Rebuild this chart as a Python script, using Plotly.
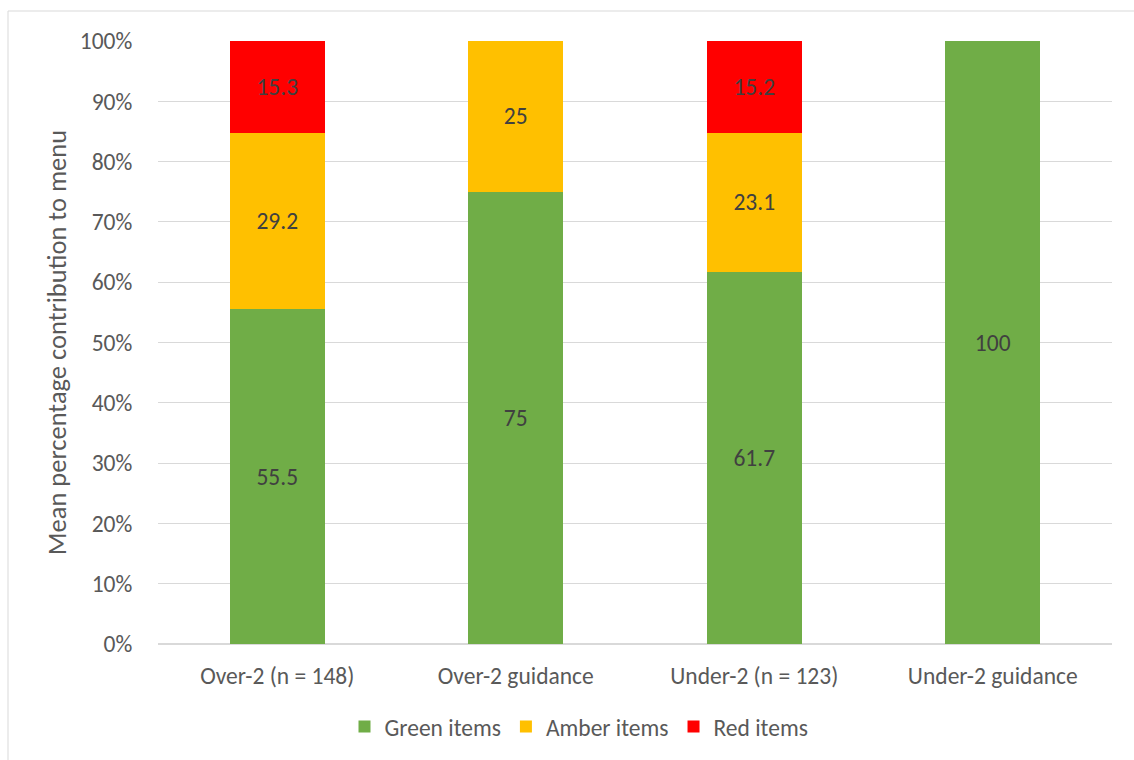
import plotly.graph_objects as go

categories = ["Over-2 (n = 148)", "Over-2 guidance", "Under-2 (n = 123)", "Under-2 guidance"]
green_vals = [55.5, 75, 61.7, 100]
amber_vals = [29.2, 25, 23.1, 0]
red_vals = [15.3, 0, 15.2, 0]
tick_vals = [0, 10, 20, 30, 40, 50, 60, 70, 80, 90, 100]
tick_text = [f"{v}%" for v in tick_vals]

FONT = "Calibri, Carlito, Lato, sans-serif"
FS = 23.5

def labels(vals):
    return [("%g" % v) if v > 0 else "" for v in vals]

fig = go.Figure()
for name, vals, col in [("Green items", green_vals, "#70ad47"),
                        ("Amber items", amber_vals, "#ffc000"),
                        ("Red items", red_vals, "#ff0000")]:
    fig.add_trace(go.Bar(
        x=categories, y=vals, name=name, marker=dict(color=col, line=dict(width=0)),
        text=labels(vals), textposition="inside", insidetextanchor="middle",
        textangle=0, constraintext="none",
        textfont=dict(family=FONT, size=FS, color="#404040"),
        hoverinfo="skip",
    ))

W, H = 1134, 760
L, R, T, B = 158, 22, 41, 116
pw, ph = W - L - R, H - T - B

fig.update_layout(
    width=W, height=H, barmode="stack", bargap=0.6,
    margin=dict(l=L, r=R, t=T, b=B, autoexpand=False),
    paper_bgcolor="white", plot_bgcolor="white",
    font=dict(family=FONT, size=FS, color="#595959"),
    showlegend=True,
    legend=dict(orientation="h", x=(579 - L) / pw, xanchor="center", y=-0.137, yanchor="middle",
                font=dict(family=FONT, size=FS, color="#595959"), traceorder="normal",
                itemclick=False, itemwidth=30),
    shapes=[dict(type="rect", xref="paper", yref="paper",
                 x0=(8 - L) / pw, x1=(W + 5 - L) / pw,
                 y0=-(H + 5 - T - ph) / ph, y1=1 + (T - 11) / ph,
                 line=dict(color="#d9d9d9", width=1), fillcolor="rgba(0,0,0,0)", layer="below")],
)
fig.update_xaxes(showgrid=False, showline=False, ticks="outside", ticklen=11, automargin=False,
                 tickcolor="rgba(0,0,0,0)", tickfont=dict(size=FS, color="#595959"))
fig.update_yaxes(range=[0, 100], tickmode="array", tickvals=tick_vals, ticktext=tick_text,
                 showgrid=True, gridcolor="#d9d9d9", gridwidth=1, zeroline=True, automargin=False,
                 zerolinecolor="#d9d9d9", showline=False, ticks="outside", ticklen=20,
                 tickcolor="rgba(0,0,0,0)", tickfont=dict(size=FS, color="#595959"),
                 title=dict(text="Mean percentage contribution to menu",
                            font=dict(size=26.5, color="#595959"), standoff=5))

fig.write_html("out.html")
